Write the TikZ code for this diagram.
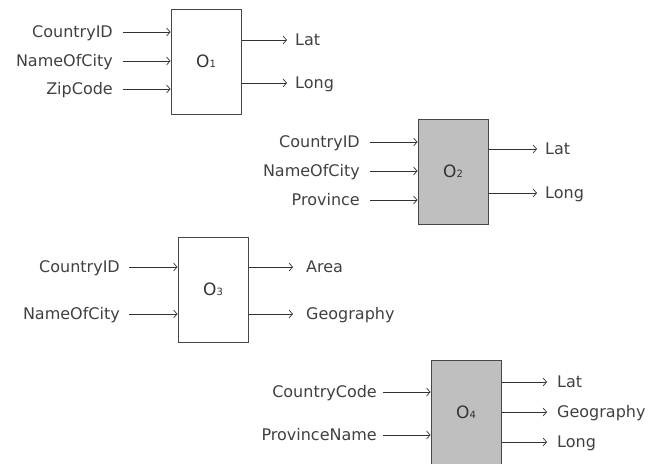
\documentclass[tikz,border=0pt]{standalone}
\usepackage{fontspec}
\setmainfont{DejaVu Sans}
\usetikzlibrary{arrows.meta}
\newcommand{\opname}[1]{O{\fontsize{10}{10}\selectfont #1}}
\begin{document}
\begin{tikzpicture}[x=1pt,y=-1pt,
  op/.style={draw=black!72,line width=1pt,minimum width=70pt,minimum height=105pt,inner sep=0pt,
    text=black!80,font=\fontsize{17}{17}\selectfont},
  grayop/.style={op,fill=black!25},
  lbl/.style={inner ysep=0pt,text height=11.7pt,text depth=0pt,text=black!75,font=\fontsize{16}{16}\selectfont},
  inp/.style={lbl,anchor=east,inner xsep=10pt},
  outp/.style={lbl,anchor=west,inner xsep=8pt},
  wire/.style={draw=black!80,line width=0.7pt,-{Straight Barb[length=3.5pt,width=8pt]}}]
\useasboundingbox (0,0) rectangle (669,463);
\clip (0,0) rectangle (669,463);

\node[op] (o1) at (206,61.5) {\opname{1}};
\node[inp] (cid1) at (123,32) {CountryID};
\node[inp] (city1) at (123,61) {NameOfCity};
\node[inp] (zip1) at (123,89) {ZipCode};
\node[outp] (lat1) at (287,40) {Lat};
\node[outp] (long1) at (287,83) {Long};
\draw[wire] (cid1.east) -- (o1.west |- cid1.east);
\draw[wire] (city1.east) -- (o1.west |- city1.east);
\draw[wire] (zip1.east) -- (o1.west |- zip1.east);
\draw[wire] (o1.east |- lat1.west) -- (lat1.west);
\draw[wire] (o1.east |- long1.west) -- (long1.west);

\node[grayop] (o2) at (453,171.5) {\opname{2}};
\node[inp] (cid2) at (370,142) {CountryID};
\node[inp] (city2) at (370,171) {NameOfCity};
\node[inp] (prov2) at (370,200) {Province};
\node[outp] (lat2) at (537,149) {Lat};
\node[outp] (long2) at (537,193) {Long};
\draw[wire] (cid2.east) -- (o2.west |- cid2.east);
\draw[wire] (city2.east) -- (o2.west |- city2.east);
\draw[wire] (prov2.east) -- (o2.west |- prov2.east);
\draw[wire] (o2.east |- lat2.west) -- (lat2.west);
\draw[wire] (o2.east |- long2.west) -- (long2.west);

\node[op] (o3) at (213,289.5) {\opname{3}};
\node[inp,inner xsep=9pt] (cid3) at (129,267) {CountryID};
\node[inp,inner xsep=9pt] (city3) at (129,314) {NameOfCity};
\node[outp,inner xsep=13pt] (area3) at (293,267) {Area};
\node[outp,inner xsep=13pt] (geo3) at (293,314) {Geography};
\draw[wire] (cid3.east) -- (o3.west |- cid3.east);
\draw[wire] (city3.east) -- (o3.west |- city3.east);
\draw[wire] (o3.east |- area3.west) -- (area3.west);
\draw[wire] (o3.east |- geo3.west) -- (geo3.west);

\node[grayop] (o4) at (466,412.5) {\opname{4}};
\node[inp,inner xsep=6pt] (code4) at (383,392) {CountryCode};
\node[inp,inner xsep=6pt] (prov4) at (383,435) {ProvinceName};
\node[outp,inner xsep=10pt] (lat4) at (547,382) {Lat};
\node[outp,inner xsep=10pt] (geo4) at (547,412) {Geography};
\node[outp,inner xsep=10pt] (long4) at (547,442) {Long};
\draw[wire] (code4.east) -- (o4.west |- code4.east);
\draw[wire] (prov4.east) -- (o4.west |- prov4.east);
\draw[wire] (o4.east |- lat4.west) -- (lat4.west);
\draw[wire] (o4.east |- geo4.west) -- (geo4.west);
\draw[wire] (o4.east |- long4.west) -- (long4.west);
\end{tikzpicture}
\end{document}
